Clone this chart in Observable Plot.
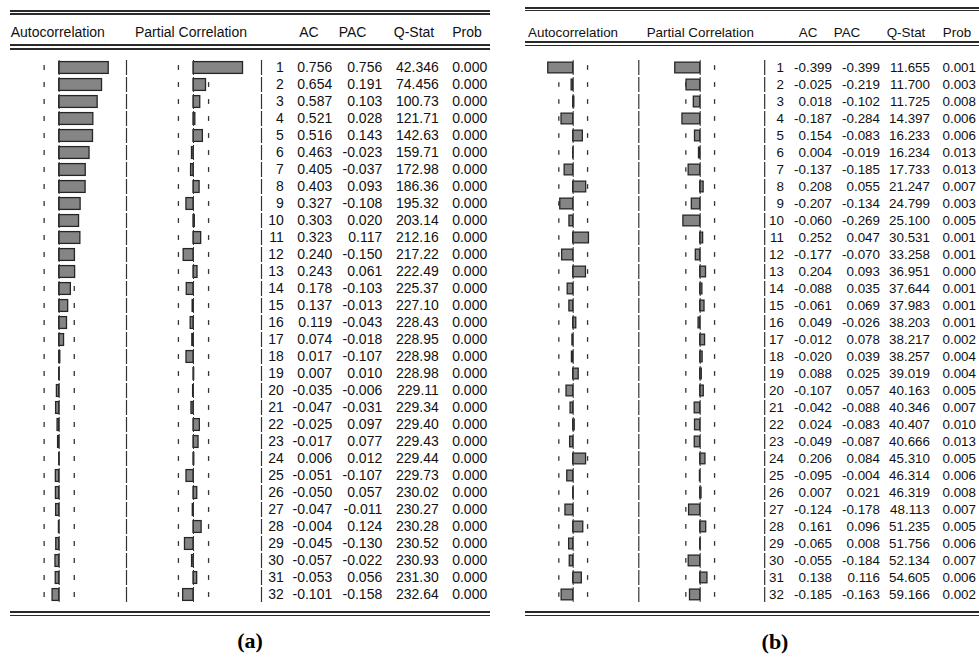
<!DOCTYPE html>
<html><head><meta charset="utf-8">
<script src="https://cdn.jsdelivr.net/npm/d3@7"></script>
<script src="https://cdn.jsdelivr.net/npm/@observablehq/plot@0.6"></script>
<style>
body{margin:0;background:#fff;}
#page{position:relative;width:979px;height:657px;overflow:hidden;background:#fff;font-family:"Liberation Sans",Arial,sans-serif;color:#111;}
.ln{position:absolute;background:#2a2a2a;}
.hd{position:absolute;white-space:nowrap;line-height:1;}
.lbl{position:absolute;font-family:"Liberation Serif","Times New Roman",serif;font-weight:bold;font-size:22px;line-height:1;transform:translate(-50%,-50%);color:#000;}
</style></head><body><div id="page"></div>
<script>
// ---- data ----
const lags = [1,2,3,4,5,6,7,8,9,10,11,12,13,14,15,16,17,18,19,20,21,22,23,24,25,26,27,28,29,30,31,32];

const acA = [0.756,0.654,0.587,0.521,0.516,0.463,0.405,0.403,0.327,0.303,0.323,0.240,0.243,0.178,0.137,0.119,0.074,0.017,0.007,-0.035,-0.047,-0.025,-0.017,0.006,-0.051,-0.050,-0.047,-0.004,-0.045,-0.057,-0.053,-0.101];
const pacA = [0.756,0.191,0.103,0.028,0.143,-0.023,-0.037,0.093,-0.108,0.020,0.117,-0.150,0.061,-0.103,-0.013,-0.043,-0.018,-0.107,0.010,-0.006,-0.031,0.097,0.077,0.012,-0.107,0.057,-0.011,0.124,-0.130,-0.022,0.056,-0.158];
const qA = [42.346,74.456,100.73,121.71,142.63,159.71,172.98,186.36,195.32,203.14,212.16,217.22,222.49,225.37,227.10,228.43,228.95,228.98,228.98,229.11,229.34,229.40,229.43,229.44,229.73,230.02,230.27,230.28,230.52,230.93,231.30,232.64];
const probA = [0.000,0.000,0.000,0.000,0.000,0.000,0.000,0.000,0.000,0.000,0.000,0.000,0.000,0.000,0.000,0.000,0.000,0.000,0.000,0.000,0.000,0.000,0.000,0.000,0.000,0.000,0.000,0.000,0.000,0.000,0.000,0.000];

const acB = [-0.399,-0.025,0.018,-0.187,0.154,0.004,-0.137,0.208,-0.207,-0.060,0.252,-0.177,0.204,-0.088,-0.061,0.049,-0.012,-0.020,0.088,-0.107,-0.042,0.024,-0.049,0.206,-0.095,0.007,-0.124,0.161,-0.065,-0.055,0.138,-0.185];
const pacB = [-0.399,-0.219,-0.102,-0.284,-0.083,-0.019,-0.185,0.055,-0.134,-0.269,0.047,-0.070,0.093,0.035,0.069,-0.026,0.078,0.039,0.025,0.057,-0.088,-0.083,-0.087,0.084,-0.004,0.021,-0.178,0.096,0.008,-0.184,0.116,-0.163];
const qB = [11.655,11.700,11.725,14.397,16.233,16.234,17.733,21.247,24.799,25.100,30.531,33.258,36.951,37.644,37.983,38.203,38.217,38.257,39.019,40.163,40.346,40.407,40.666,45.310,46.314,46.319,48.113,51.235,51.756,52.134,54.605,59.166];
const probB = [0.001,0.003,0.008,0.006,0.006,0.013,0.013,0.007,0.003,0.005,0.001,0.001,0.000,0.001,0.001,0.001,0.002,0.004,0.004,0.005,0.007,0.010,0.013,0.005,0.006,0.008,0.007,0.005,0.006,0.007,0.006,0.002];

const headerLabels = ["Autocorrelation","Partial Correlation","AC","PAC","Q-Stat","Prob"];
const panelLabels = ["(a)","(b)"];
const bound = 0.23;

// ---- layout ----
const layouts = [
 {x1:10, x2:490, top:[10,13.3], head:[44.3,48.3], bottom:[611,615], headY:32, font:14,
  acL:10, sep1:126, sep2:261, right:490, acZero:58.7, pacZero:193, k:65.5, rowTop:56.4, band:17.19, barH:12,
  hdr:[10.7,135,309,352.5,414,467],
  cols:{lag:283.3, ac:331.7, pac:381.7, q:438.3, prob:486.7}, label:[250,641]},
 {x1:525, x2:979, top:[6.7,9.7], head:[41,44.7], bottom:[610.7,614.7], headY:33, font:13.4,
  acL:525, sep1:638.3, sep2:764.5, right:979, acZero:572.7, pacZero:700, k:62.5, rowTop:54.1, band:17.3, barH:11,
  hdr:[528,646.7,808,847,906,957],
  cols:{lag:783, ac:831, pac:879, q:929, prob:975}, label:[775,642]}
];
const panels = [
  {ac:acA, pac:pacA, q:qA, prob:probA},
  {ac:acB, pac:pacB, q:qB, prob:probB}
];

const page = document.getElementById("page");
function hline(x1,x2,y,h){
  const d=document.createElement("div"); d.className="ln";
  d.style.left=x1+"px"; d.style.width=(x2-x1)+"px"; d.style.top=y+"px"; d.style.height=h+"px";
  page.appendChild(d);
}
const fmtQ = d3.format(".5r");

function corrPlot(values, L, left, right, zero){
  const w = right-left, h = L.band*lags.length;
  const rows = lags.map((lag,i)=>({lag, v: values[i]}));
  const inset = (L.band - L.barH)/2;
  const bInset = (L.band - 5)/2;
  const xmin = -(zero-left)/L.k, xmax = (right-zero)/L.k;
  const p = Plot.plot({
    width:w, height:h, marginTop:0, marginBottom:0, marginLeft:0, marginRight:0,
    x:{domain:[xmin,xmax], axis:null},
    y:{type:"band", domain:lags, padding:0, axis:null},
    style:{overflow:"visible", background:"transparent"},
    marks:[
      Plot.tickX(rows,{x:-bound, y:"lag", stroke:"#333", strokeWidth:1.3, insetTop:bInset, insetBottom:bInset}),
      Plot.tickX(rows,{x:bound, y:"lag", stroke:"#333", strokeWidth:1.3, insetTop:bInset, insetBottom:bInset}),
      Plot.barX(rows,{x1:0, x2:"v", y:"lag", fill:"#858585", stroke:"#262626", strokeWidth:1.3, insetTop:inset, insetBottom:inset}),
      Plot.tickX(rows,{x:0, y:"lag", stroke:"#333", strokeWidth:1, insetTop:1, insetBottom:1}),
      Plot.tickX(rows,{x:xmax, y:"lag", stroke:"#333", strokeWidth:1.2, insetTop:1, insetBottom:1})
    ]
  });
  p.style.position="absolute"; p.style.left=left+"px"; p.style.top=L.rowTop+"px";
  return p;
}

function tablePlot(P, L){
  const left = L.sep2, w = L.right-left, h = L.band*lags.length;
  const rows = [];
  lags.forEach((lag,i)=>{
    rows.push({lag, col:"lag", t:String(lag)});
    rows.push({lag, col:"ac", t:P.ac[i].toFixed(3)});
    rows.push({lag, col:"pac", t:P.pac[i].toFixed(3)});
    rows.push({lag, col:"q", t:fmtQ(P.q[i])});
    rows.push({lag, col:"prob", t:P.prob[i].toFixed(3)});
  });
  const p = Plot.plot({
    width:w, height:h, marginTop:0, marginBottom:0, marginLeft:0, marginRight:0,
    x:{domain:[0,w], axis:null},
    y:{type:"band", domain:lags, padding:0, axis:null},
    style:{overflow:"visible", background:"transparent", fontFamily:"'Liberation Sans', Arial, sans-serif"},
    marks:[
      Plot.text(rows,{x:d=>L.cols[d.col]-left, y:"lag", text:"t", textAnchor:"end", fill:"#111", fontSize:L.font})
    ]
  });
  p.style.position="absolute"; p.style.left=left+"px"; p.style.top=L.rowTop+"px";
  return p;
}

layouts.forEach((L,pi)=>{
  const P = panels[pi];
  hline(L.x1,L.x2,L.top[0],2); hline(L.x1,L.x2,L.top[1],1.4);
  hline(L.x1,L.x2,L.head[0],2); hline(L.x1,L.x2,L.head[1],1.4);
  hline(L.x1,L.x2,L.bottom[0],2); hline(L.x1,L.x2,L.bottom[1],1.4);
  headerLabels.forEach((t,i)=>{
    const s=document.createElement("div"); s.className="hd"; s.textContent=t;
    s.style.fontSize=L.font+"px";
    s.style.top=(L.headY-0.49*L.font)+"px";
    s.style.left=L.hdr[i]+"px";
    if(i>=2) s.style.transform="translateX(-50%)";
    page.appendChild(s);
  });
  page.appendChild(corrPlot(P.ac, L, L.acL, L.sep1, L.acZero));
  page.appendChild(corrPlot(P.pac, L, L.sep1, L.sep2, L.pacZero));
  page.appendChild(tablePlot(P, L));
  const lb=document.createElement("div"); lb.className="lbl"; lb.textContent=panelLabels[pi];
  lb.style.left=L.label[0]+"px"; lb.style.top=L.label[1]+"px";
  page.appendChild(lb);
});
</script></body></html>
